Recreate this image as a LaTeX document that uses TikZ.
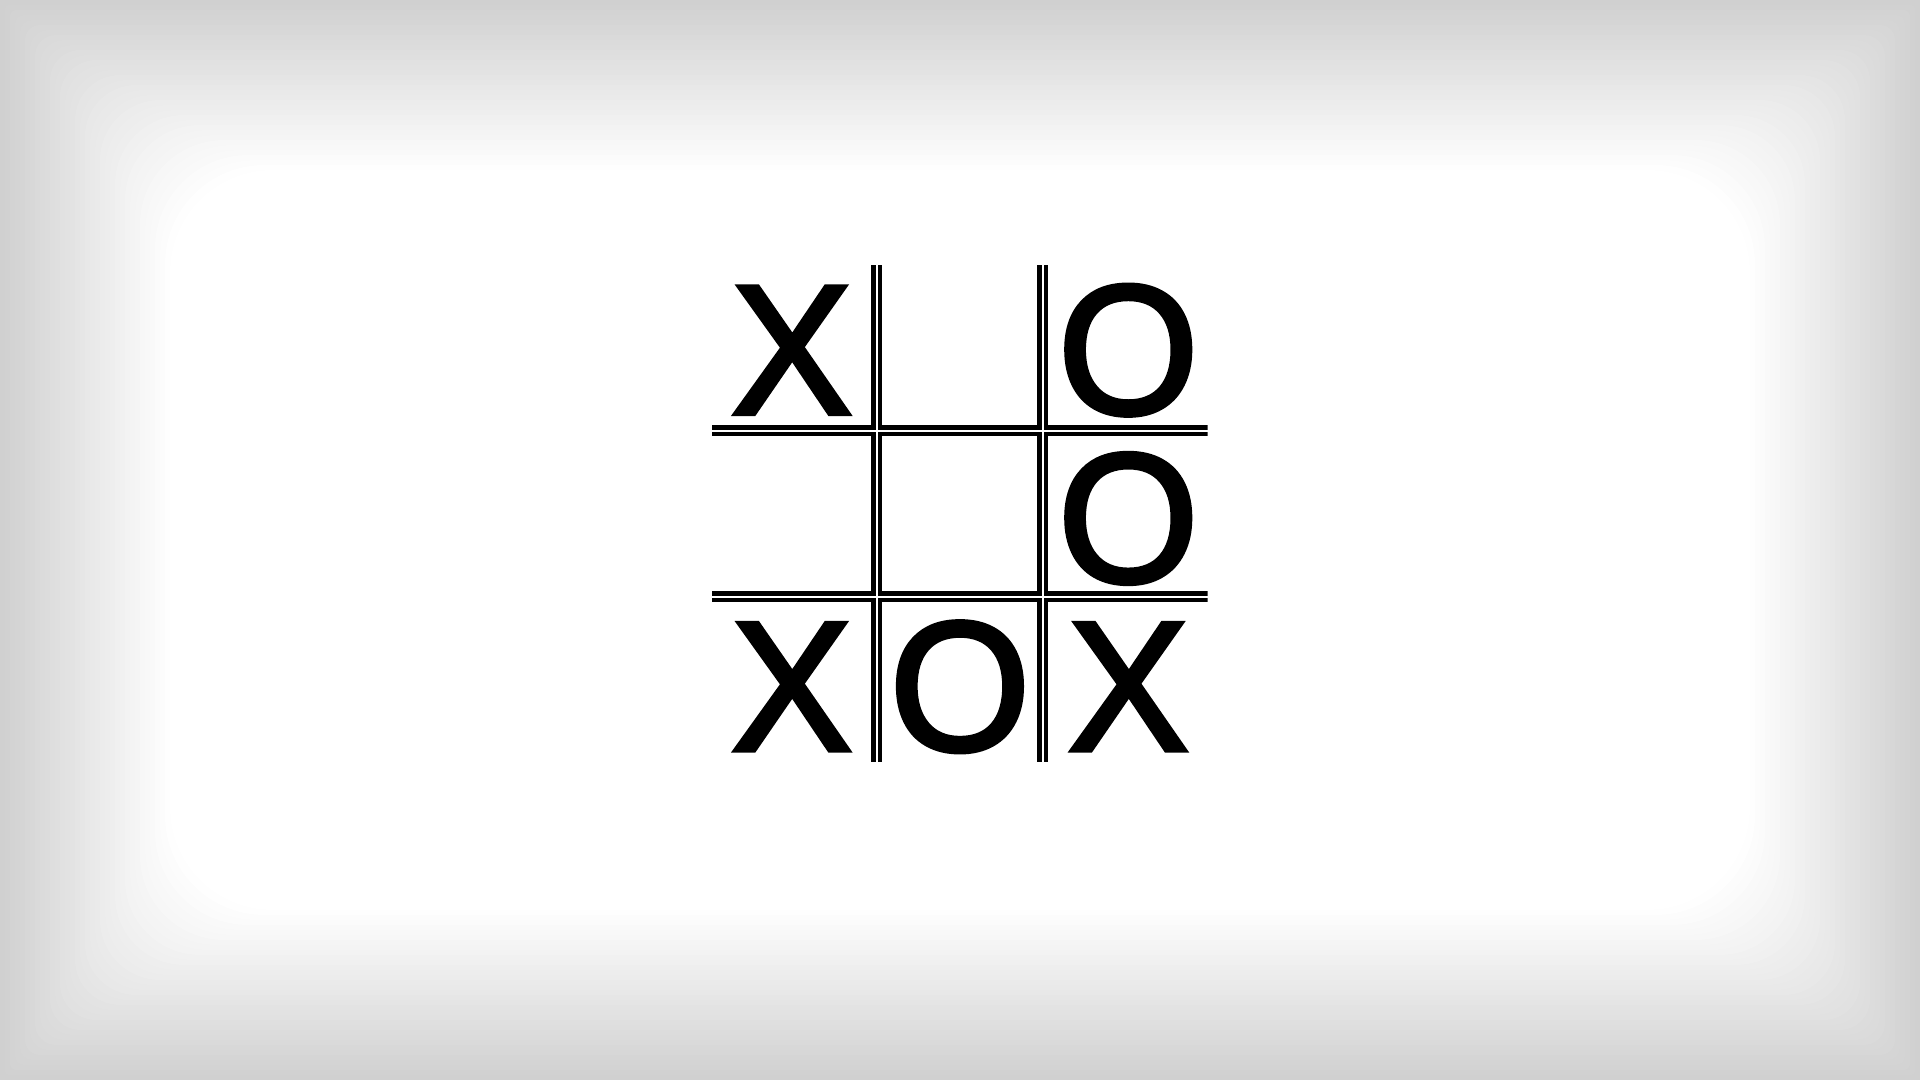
\documentclass[tikz,border=0pt]{standalone}
\usepackage{fontspec}
\setmainfont{Liberation Sans}
\newfontfamily\piecefont{Liberation Sans}[FakeBold=2.5,FakeStretch=0.98]
\usetikzlibrary{calc}
\definecolor{ink}{HTML}{000000}
\definecolor{edge}{HTML}{D0D0D0}

\begin{document}
\begin{tikzpicture}[x=0.01cm,y=-0.01cm,
  cellline/.style={draw=ink,line width=1.25pt},
  piece/.style={inner sep=0pt,font=\piecefont\fontsize{52.5}{52.5}\selectfont,color=ink}]
  \useasboundingbox (0,0) rectangle (1920,1080);

  % grey vignette fading in to white
  \fill[white] (0,0) rectangle (1920,1080);
  \foreach \i in {0,...,34} {
    \pgfmathsetmacro{\g}{100*(1-\i/34)}
    \pgfmathsetmacro{\rad}{0.03*\i}
    \fill[edge!\g!white,rounded corners=\rad cm] (5*\i,5*\i) rectangle (1920-5*\i,1080-5*\i);
  }

  % board: every cell has its own border, outer sides clipped away
  \begin{scope}
    \clip (712,266) rectangle (1207.7,761.7);
    \foreach \c in {0,1,2}
      \foreach \r in {0,1,2}
        \draw[cellline] ({714.2+166*\c-20*equal(\c,0)},{268.2+166*\r-20*equal(\r,0)})
          rectangle ({873.5+166*\c+20*equal(\c,2)},{427.5+166*\r+20*equal(\r,2)});
  \end{scope}

  % pieces
  \foreach \col/\row/\txt in {1/1/X,3/1/O,3/2/O,1/3/X,2/3/O,3/3/X}
    \node[piece] (p\row\col) at ({960+168.3*(\col-2)},{518.5+168.3*(\row-2)}) {\txt};
\end{tikzpicture}
\end{document}
